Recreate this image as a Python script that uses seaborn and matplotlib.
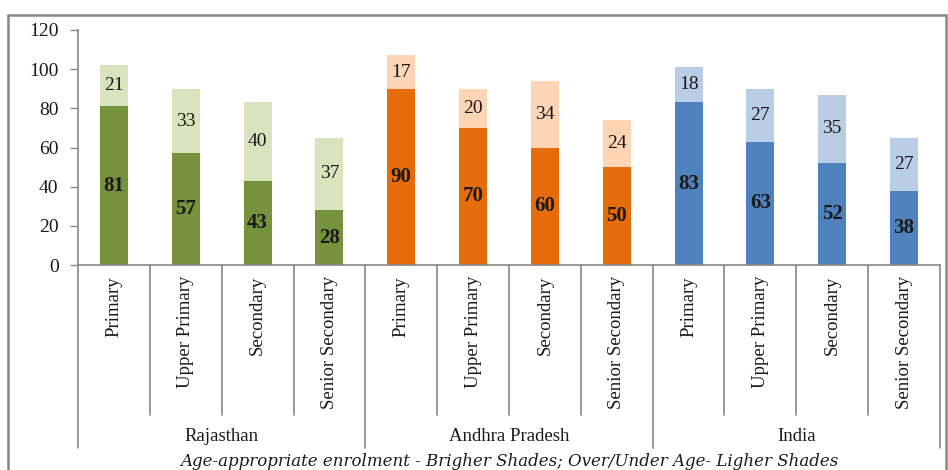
import pandas as pd
import seaborn as sns
import matplotlib.pyplot as plt
from matplotlib.patches import Rectangle

# values
regions = ["Rajasthan", "Andhra Pradesh", "India"]
levels = ["Primary", "Upper Primary", "Secondary", "Senior Secondary"]
age_appropriate = [81, 57, 43, 28, 90, 70, 60, 50, 83, 63, 52, 38]
over_under = [21, 33, 40, 37, 17, 20, 34, 24, 18, 27, 35, 27]

dark_colors = ["#76923C", "#E46C0A", "#4F81BD"]
light_colors = ["#D7E4BD", "#FBD5B5", "#B9CDE5"]

rows = []
for i, reg in enumerate(regions):
    for j, lev in enumerate(levels):
        k = i * 4 + j
        rows.append({
            "key": f"{reg}|{lev}",
            "region": reg,
            "level": lev,
            "dark": age_appropriate[k],
            "light": over_under[k],
            "total": age_appropriate[k] + over_under[k],
            "c_dark": dark_colors[i],
            "c_light": light_colors[i],
        })
df = pd.DataFrame(rows)
order = list(df["key"])

sns.set_style("white")
plt.rcParams["font.family"] = ["Liberation Serif", "DejaVu Serif"]

fig = plt.figure(figsize=(9.48, 4.70), dpi=100)
ax = fig.add_axes([78 / 948, 1 - 265 / 470, (940 - 78) / 948, 235 / 470])

# stacked bars: total (light) behind, age-appropriate (dark) in front
sns.barplot(data=df, x="key", y="total", hue="key", order=order, hue_order=order,
            palette=dict(zip(df["key"], df["c_light"])), width=0.39, dodge=False,
            legend=False, saturation=1, linewidth=0, ax=ax)
sns.barplot(data=df, x="key", y="dark", hue="key", order=order, hue_order=order,
            palette=dict(zip(df["key"], df["c_dark"])), width=0.39, dodge=False,
            legend=False, saturation=1, linewidth=0, ax=ax)

# value labels
for k, r in df.iterrows():
    ax.text(k, r["dark"] / 2, str(r["dark"]), ha="center", va="center",
            fontsize=15, fontweight="bold", color="#1a1a1a")
    ax.text(k, r["dark"] + r["light"] / 2, str(r["light"]), ha="center", va="center",
            fontsize=14, color="#1a1a1a")

ax.set_ylim(0, 120)
ax.set_xlim(-0.5, len(order) - 0.5)
ax.set_yticks(range(0, 121, 20))
ax.tick_params(axis="y", left=True, length=6, width=1, color="#888888",
               labelsize=14, labelcolor="#1a1a1a", pad=8)
ax.set_xticks(range(len(order)))
ax.set_xticklabels(df["level"], rotation=90, ha="center", va="top",
                   fontsize=13.5, color="#1a1a1a")
ax.tick_params(axis="x", length=0, pad=8)
ax.set_xlabel("")
ax.set_ylabel("")
for s in ["top", "right"]:
    ax.spines[s].set_visible(False)
for s in ["left", "bottom"]:
    ax.spines[s].set_color("#888888")
    ax.spines[s].set_linewidth(1.2)

# category separators and group labels below the axis
trans = ax.get_xaxis_transform()
for b in range(len(order) + 1):
    x = b - 0.5
    y_end = -0.779 if b % 4 == 0 else -0.638
    ax.plot([x, x], [0, y_end], color="#888888", lw=1.2, transform=trans, clip_on=False)
for i, reg in enumerate(regions):
    ax.text(i * 4 + 1.5, -0.728, reg, transform=trans, ha="center", va="center",
            fontsize=13.5, color="#1a1a1a")

fig.text(509 / 948, 1 - 461 / 470,
         "Age-appropriate enrolment - Brigher Shades; Over/Under Age- Ligher Shades",
         ha="center", va="center", fontsize=12, style="italic",
         family="DejaVu Serif", color="#1a1a1a")

# outer frame
fig.patches.append(Rectangle((8 / 948, -0.05), 938 / 948, 1.05 - 15 / 470,
                             transform=fig.transFigure, fill=False,
                             edgecolor="#888888", lw=1.8))

fig.savefig("out.png", dpi=100)
